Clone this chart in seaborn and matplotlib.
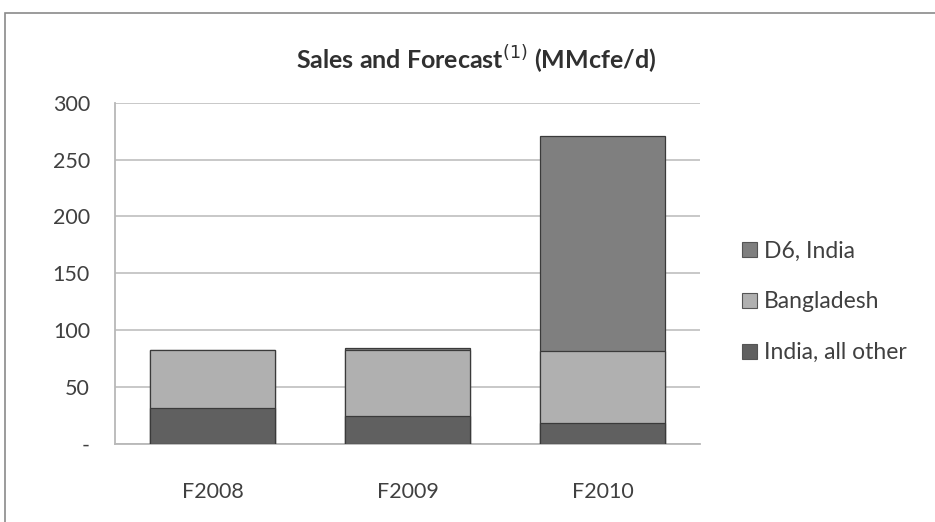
import pandas as pd
import seaborn as sns
import matplotlib.pyplot as plt
from matplotlib.patches import Patch, Rectangle
from matplotlib.ticker import FuncFormatter

# ----- Data ----- #
years = ["F2008", "F2009", "F2010"]
india_other = [32, 24.5, 18.5]
bangladesh = [50.5, 58.5, 63]
d6_india = [0, 1.5, 189]

colors = {"D6, India": "#7f7f7f", "Bangladesh": "#b0b0b0", "India, all other": "#606060"}

df = pd.DataFrame({"Year": years, "India, all other": india_other,
                   "Bangladesh": bangladesh, "D6, India": d6_india})
# cumulative tops for stacking
df["top_other"] = df["India, all other"]
df["top_bang"] = df["top_other"] + df["Bangladesh"]
df["top_d6"] = df["top_bang"] + df["D6, India"]

sns.set_style("white")
plt.rcParams["font.family"] = ["Lato", "DejaVu Sans"]

fig = plt.figure(figsize=(9.35, 5.22), dpi=100)
ax = fig.add_axes([0.123, 0.1494, 0.6257, 0.654])

# outer chart border (only top and left visible in the crop)
fig.patches.append(Rectangle((5 / 935, -0.1), 1.2, 1 - 13 / 522 + 0.1, transform=fig.transFigure,
                             fill=False, edgecolor="#8a8a8a", linewidth=1.2, zorder=0))

for col, key in [("top_d6", "D6, India"), ("top_bang", "Bangladesh"), ("top_other", "India, all other")]:
    sns.barplot(data=df, x="Year", y=col, color=colors[key], width=0.64, ax=ax,
                edgecolor="#3a3a3a", linewidth=0.9, saturation=1, zorder=3)

ax.set_ylim(0, 300)
ax.set_yticks(range(0, 301, 50))
ax.yaxis.set_major_formatter(FuncFormatter(lambda v, p: "-" if v == 0 else f"{int(v)}"))
ax.grid(axis="y", color="#c4c4c4", linewidth=1.3, zorder=0)
ax.set_axisbelow(True)
for side in ["top", "right"]:
    ax.spines[side].set_visible(False)
for side in ["left", "bottom"]:
    ax.spines[side].set_color("#b8b8b8")
    ax.spines[side].set_linewidth(1.3)
ax.tick_params(axis="both", length=0, labelsize=15.5, colors="#404040")
ax.tick_params(axis="y", pad=18)
ax.tick_params(axis="x", pad=27)
ax.set_xlabel("")
ax.set_ylabel("")

# title is centred over the whole chart box, not the plot area
fig.text(476 / 935, 1 - 60 / 522, "Sales and Forecast$^{(1)}$ (MMcfe/d)", fontsize=18,
         fontweight="bold", color="#303030", ha="center", va="center")

handles = [Patch(facecolor=colors[k], edgecolor="#555555", linewidth=0.8) for k in colors]
leg = fig.legend(handles, list(colors.keys()), loc="center left", bbox_to_anchor=(731 / 935, 1 - 302 / 522),
                 frameon=False, fontsize=16.5, handlelength=0.65, handleheight=0.65,
                 handletextpad=0.3, labelspacing=1.3, borderpad=0)
for t in leg.get_texts():
    t.set_color("#404040")

fig.savefig("out.png", dpi=100)
